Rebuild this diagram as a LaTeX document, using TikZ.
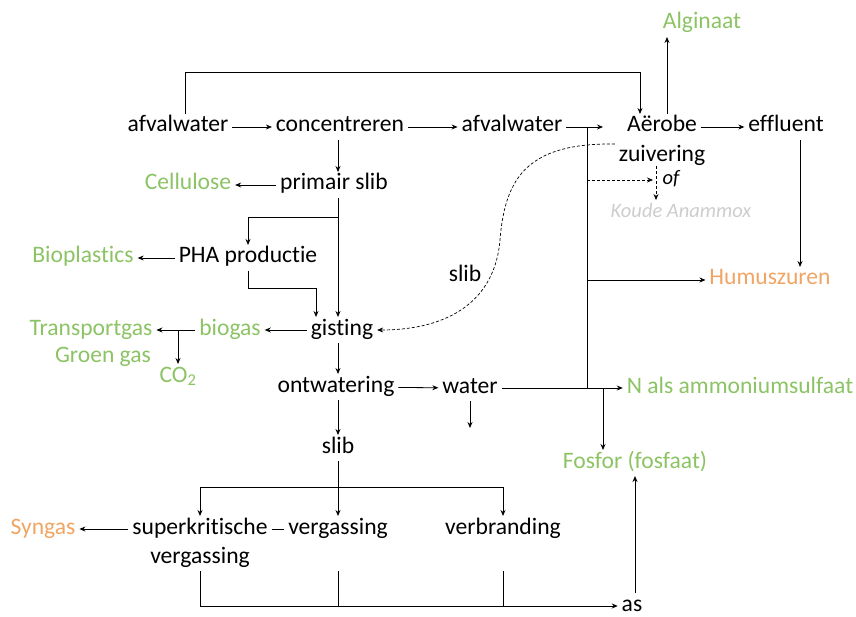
\documentclass[tikz,border=0pt]{standalone}
\usepackage{fontspec}
\setmainfont{Carlito}[Ligatures=NoCommon]
\usetikzlibrary{arrows.meta}
\definecolor{grn}{RGB}{140,195,100}
\definecolor{orng}{RGB}{240,165,100}
\definecolor{lgray}{RGB}{205,205,205}
\begin{document}
\begin{tikzpicture}[>={Stealth[length=6pt,width=5pt]}, x=1pt, y=-1pt, line width=.8pt,
  every node/.style={font=\fontsize{23.6}{28}\selectfont, inner sep=0pt, outer sep=4pt, text height=14pt, text depth=4pt},
  prod/.style={text=grn},
  rest/.style={text=orng},
  alt/.style={text=lgray, font=\fontsize{20.5}{24}\selectfont\itshape},
  dsh/.style={dash pattern=on 3pt off 2pt, line width=.7pt}]
\useasboundingbox (0,0) rectangle (856,617);

\node (afval) at (178,127) {afvalwater};
\node (conc) at (340,127) {concentreren};
\node (afval2) at (512,127) {afvalwater};
\node (aerobe) at (662,127) {Aërobe};
\node (zuiv) at (662,157) {zuivering};
\node (effl) at (786,127) {effluent};
\node [prod] (algi) at (702,24) {Alginaat};
\node [font=\fontsize{20.5}{24}\selectfont\itshape] (of) at (671,180) {of};
\node [alt] (koude) at (681,213) {Koude Anammox};
\node [rest] (humus) at (770,280) {Humuszuren};
\node (prim) at (334,185) {primair slib};
\node [prod] (cell) at (188,185) {Cellulose};
\node (pha) at (248,258) {PHA productie};
\node [prod] (biopl) at (83,258) {Bioplastics};
\node (slibd) at (465,277) {slib};
\node (gist) at (342,330) {gisting};
\node [prod] (biogas) at (230,330) {biogas};
\node [prod] (transp) at (91,330) {Transportgas};
\node [prod] (groen) at (103,357) {Groen gas};
\node [prod] (co2) at (178,377) {CO\textsubscript{2}};
\node (ontw) at (336,387) {ontwatering};
\node (water) at (470,388) {water};
\node [prod] (nams) at (740,388) {N als ammoniumsulfaat};
\node [prod] (fosfor) at (635,463) {Fosfor (fosfaat)};
\node (slib) at (338,448) {slib};
\node (superk) at (200,529) {superkritische};
\node (superk2) at (200,558) {vergassing};
\node (verg) at (338,529) {vergassing};
\node (verbr) at (503,529) {verbranding};
\node [rest] (syngas) at (43,529) {Syngas};
\node (as) at (632,606) {as};

\coordinate (top) at (0,72);
\coordinate (ain) at (603,127);
\coordinate (jv) at (587,127);
\coordinate (jf) at (603,388);
\coordinate (kx) at (656,166);
\coordinate (cx) at (338,0);
\coordinate (b1) at (338,217);
\coordinate (b2) at (316,288);
\coordinate (b3) at (178,330);
\coordinate (wd) at (470,428);
\coordinate (b4) at (338,487);

\draw [->](afval)--(conc);
\draw [->](conc)--(afval2);
\draw [->](afval2.east)--(ain);
\draw [->]([xshift=7pt]afval.north)--([xshift=7pt]afval.north |- top) -| ([xshift=-22pt]aerobe.north);
\draw [->]([xshift=5pt]aerobe.north)--([xshift=5pt]aerobe.north |- algi.south);
\draw [->](aerobe)--(effl);
\draw [->]([xshift=14pt]effl.south)--([xshift=14pt]effl.south |- humus.north);
\draw (jv)--(jv |- water);
\draw [->](jv |- humus)--(humus);
\draw [->, dsh](jv |- of)--([xshift=-3pt]kx |- of);
\draw [->, dsh](kx)--(kx |- koude.north);
\draw [->, dsh](zuiv.north west) .. controls (530,143) and (505,175) .. (500,240)
  .. controls (495,300) and (450,330) .. (gist.east);

\draw [->](conc.south -| cx)--(prim.north -| cx);
\draw [->](prim)--(cell);
\draw [->](prim.south -| cx)--(gist.north -| cx);
\draw [->](b1) -| (pha.north);
\draw [->](pha)--(biopl);
\draw [->](pha.south) |- (b2)--(b2 |- gist.north);
\draw [->](gist)--(biogas);
\draw [->](biogas)--(transp);
\draw [->](b3)--(b3 |- co2.north);

\draw [->](gist.south -| cx)--(ontw.north -| cx);
\draw [->](ontw)--(water);
\draw [->](water)--(wd);
\draw [->](water)--(nams);
\draw [->](jf)--(jf |- fosfor.north);
\draw [->](ontw.south -| cx)--(slib.north -| cx);

\draw [->](slib)--(verg);
\draw [->](b4) -| (superk.north);
\draw [->](b4) -| (verbr.north);
\draw [->](superk)--(syngas);
\draw (superk)--(verg);
\draw [->](superk2.south) |- (as);
\draw (superk2.south -| verg)--(as -| verg);
\draw (superk2.south -| verbr)--(as -| verbr);
\draw [->]([xshift=3pt]as.north)--([xshift=3pt]as.north |- fosfor.south);
\end{tikzpicture}
\end{document}
